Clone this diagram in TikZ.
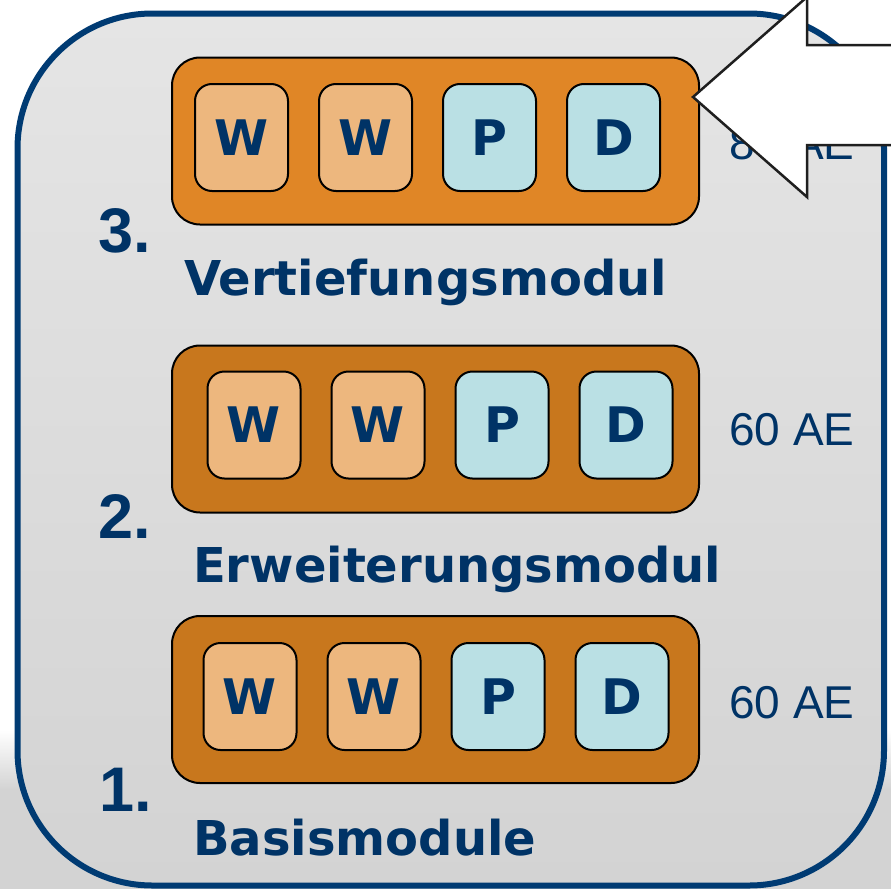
\documentclass[tikz,border=0pt]{standalone}
\usepackage{fontspec}
\setmainfont{DejaVu Sans}
\newfontfamily\arialfont{Liberation Sans}
\usetikzlibrary{positioning}

\definecolor{frameblue}{HTML}{003B73}
\definecolor{textblue}{HTML}{003366}
\definecolor{modlight}{HTML}{E08626}
\definecolor{moddark}{HTML}{C8771D}
\definecolor{wfill}{HTML}{EDB77E}
\definecolor{pfill}{HTML}{BAE0E4}
\definecolor{panelgray}{HTML}{E5E5E5}
\definecolor{lowgray}{HTML}{D3D3D3}

\tikzset{
  modbox/.style={draw=black, line width=2pt, rounded corners=28pt,
    minimum width=527pt, minimum height=167pt},
  unitbox/.style={draw=black, line width=2pt, rounded corners=17pt,
    minimum width=93pt, minimum height=107pt, text=textblue,
    font=\fontsize{49}{49}\selectfont\bfseries},
  wbox/.style={unitbox, fill=wfill},
  pbox/.style={unitbox, fill=pfill},
  modnum/.style={anchor=base west, text=textblue,
    font=\arialfont\fontsize{63}{63}\selectfont\bfseries},
  modtitle/.style={anchor=base west, text=textblue,
    font=\fontsize{48}{48}\selectfont\bfseries},
  aelabel/.style={anchor=base west, text=textblue,
    font=\arialfont\fontsize{46}{46}\selectfont},
}

\begin{document}
\begin{tikzpicture}[x=1pt, y=-1pt, every node/.style={inner sep=0pt}]
  \useasboundingbox (0,0) rectangle (891,889);
  \clip (0,0) rectangle (891,889);
  % background
  \fill[white] (0,0) rectangle (891,889);
  \shade[top color=white, bottom color=lowgray] (0,730) rectangle (891,790);
  \fill[lowgray] (0,789) rectangle (891,889);
  \draw[frameblue, line width=6pt, rounded corners=135pt,
    top color=panelgray, bottom color=lowgray]
    (17.5,13.5) rectangle (884,885.5);

  % modules: number / centre y / first unit x / fill
  \foreach \m/\my/\ux/\uy/\mfill in {3/141/241.5/137.5/modlight,
                                     2/429/254/425/moddark,
                                     1/699.5/250/696.5/moddark}{
    \node[modbox, fill=\mfill] (mod\m) at (435.5,\my) {};
    \node[wbox] (w\m-a) at (\ux,\uy) {W};
    \node[wbox] (w\m-b) at (\ux+124,\uy) {W};
    \node[pbox] (p\m) at (\ux+248,\uy) {P};
    \node[pbox] (d\m) at (\ux+372,\uy) {D};
  }

  \node[aelabel] (ae3) at (729,159) {80 AE};
  \node[aelabel] (ae2) at (729,445) {60 AE};
  \node[aelabel] (ae1) at (729,718) {60 AE};

  \node[modnum] (num3) at (98,252) {3.};
  \node[modtitle] (title3) at (184,295) {Vertiefungsmodul};
  \node[modnum] (num2) at (98,538) {2.};
  \node[modtitle] (title2) at (193,582) {Erweiterungsmodul};
  \node[modnum] (num1) at (99,811) {1.};
  \node[modtitle] (title1) at (193,855) {Basismodule};

  % pointer arrow
  \draw[fill=white, draw=black!88, line width=2.5pt, line join=miter]
    (693,97) -- (807,-3) -- (807,45) -- (900,45) -- (900,145)
    -- (807,145) -- (807,197) -- cycle;
\end{tikzpicture}
\end{document}
